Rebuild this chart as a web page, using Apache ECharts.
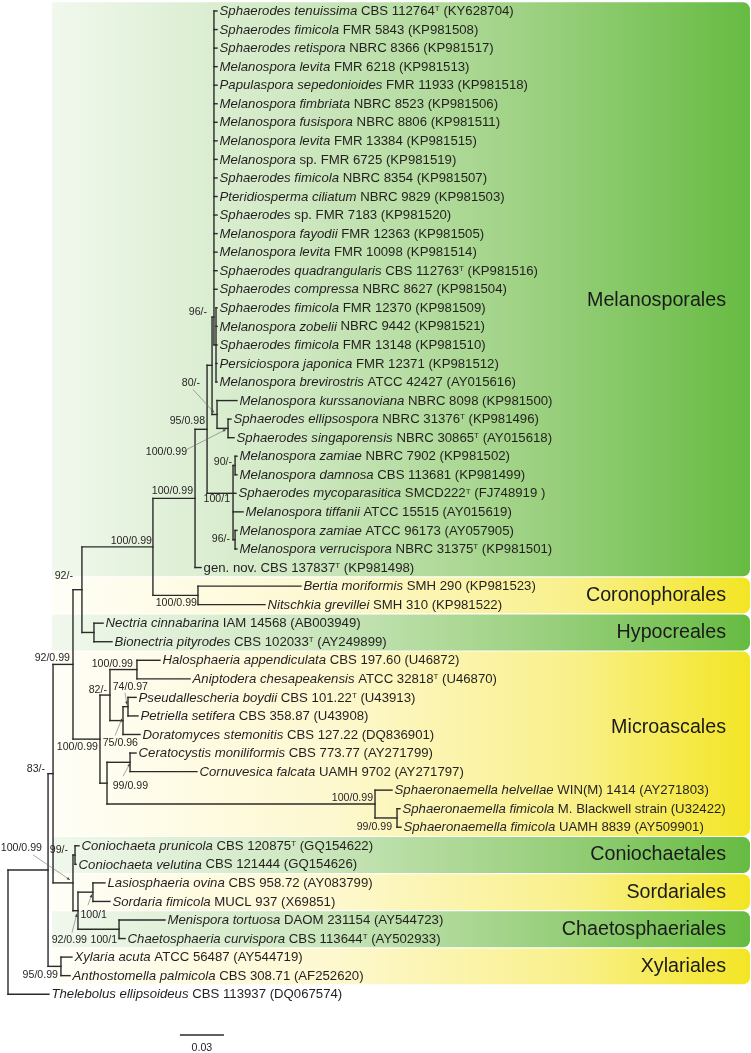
<!DOCTYPE html>
<html>
<head>
<meta charset="utf-8">
<script src="https://cdn.jsdelivr.net/npm/echarts@6/dist/echarts.min.js"></script>
<style>
html, body { margin: 0; padding: 0; background: #fff; }
#chart { width: 751px; height: 1053px; }
</style>
</head>
<body>
<div id="chart"></div>
<script>
// tip labels, top to bottom (row = index)
var leafNames = [
  '{i|Sphaerodes tenuissima} CBS 112764{t|T} (KY628704)',
  '{i|Sphaerodes fimicola} FMR 5843 (KP981508)',
  '{i|Sphaerodes retispora} NBRC 8366 (KP981517)',
  '{i|Melanospora levita} FMR 6218 (KP981513)',
  '{i|Papulaspora sepedonioides} FMR 11933 (KP981518)',
  '{i|Melanospora fimbriata} NBRC 8523 (KP981506)',
  '{i|Melanospora fusispora} NBRC 8806 (KP981511)',
  '{i|Melanospora levita} FMR 13384 (KP981515)',
  '{i|Melanospora} sp. FMR 6725 (KP981519)',
  '{i|Sphaerodes fimicola} NBRC 8354 (KP981507)',
  '{i|Pteridiosperma ciliatum} NBRC 9829 (KP981503)',
  '{i|Sphaerodes} sp. FMR 7183 (KP981520)',
  '{i|Melanospora fayodii} FMR 12363 (KP981505)',
  '{i|Melanospora levita} FMR 10098 (KP981514)',
  '{i|Sphaerodes quadrangularis} CBS 112763{t|T} (KP981516)',
  '{i|Sphaerodes compressa} NBRC 8627 (KP981504)',
  '{i|Sphaerodes fimicola} FMR 12370 (KP981509)',
  '{i|Melanospora zobelii} NBRC 9442 (KP981521)',
  '{i|Sphaerodes fimicola} FMR 13148 (KP981510)',
  '{i|Persiciospora japonica} FMR 12371 (KP981512)',
  '{i|Melanospora brevirostris} ATCC 42427 (AY015616)',
  '{i|Melanospora kurssanoviana} NBRC 8098 (KP981500)',
  '{i|Sphaerodes ellipsospora} NBRC 31376{t|T} (KP981496)',
  '{i|Sphaerodes singaporensis} NBRC 30865{t|T} (AY015618)',
  '{i|Melanospora zamiae} NBRC 7902 (KP981502)',
  '{i|Melanospora damnosa} CBS 113681 (KP981499)',
  '{i|Sphaerodes mycoparasitica} SMCD222{t|T} (FJ748919 )',
  '{i|Melanospora tiffanii} ATCC 15515 (AY015619)',
  '{i|Melanospora zamiae} ATCC 96173 (AY057905)',
  '{i|Melanospora verrucispora} NBRC 31375{t|T} (KP981501)',
  'gen. nov. CBS 137837{t|T} (KP981498)',
  '{i|Bertia moriformis} SMH 290 (KP981523)',
  '{i|Nitschkia grevillei} SMH 310 (KP981522)',
  '{i|Nectria cinnabarina} IAM 14568 (AB003949)',
  '{i|Bionectria pityrodes} CBS 102033{t|T} (AY249899)',
  '{i|Halosphaeria appendiculata} CBS 197.60 (U46872)',
  '{i|Aniptodera chesapeakensis} ATCC 32818{t|T} (U46870)',
  '{i|Pseudallescheria boydii} CBS 101.22{t|T} (U43913)',
  '{i|Petriella setifera} CBS 358.87 (U43908)',
  '{i|Doratomyces stemonitis} CBS 127.22 (DQ836901)',
  '{i|Ceratocystis moniliformis} CBS 773.77 (AY271799)',
  '{i|Cornuvesica falcata} UAMH 9702 (AY271797)',
  '{i|Sphaeronaemella helvellae} WIN(M) 1414 (AY271803)',
  '{i|Sphaeronaemella fimicola} M. Blackwell strain (U32422)',
  '{i|Sphaeronaemella fimicola} UAMH 8839 (AY509901)',
  '{i|Coniochaeta prunicola} CBS 120875{t|T} (GQ154622)',
  '{i|Coniochaeta velutina} CBS 121444 (GQ154626)',
  '{i|Lasiosphaeria ovina} CBS 958.72 (AY083799)',
  '{i|Sordaria fimicola} MUCL 937 (X69851)',
  '{i|Menispora tortuosa} DAOM 231154 (AY544723)',
  '{i|Chaetosphaeria curvispora} CBS 113644{t|T} (AY502933)',
  '{i|Xylaria acuta} ATCC 56487 (AY544719)',
  '{i|Anthostomella palmicola} CBS 308.71 (AF252620)',
  '{i|Thelebolus ellipsoideus} CBS 113937 (DQ067574)'
];
// internal node each tip hangs from
var leafParent = [9,9,9,9,9,9,9,9,9,9,9,9,9,9,9,9,10,10,10,10,10,11,12,12,14,14,13,13,15,15,
  6,16,16,17,17,20,20,22,22,21,24,24,25,26,26,28,28,30,30,31,31,32,32,0];
// distance of each tip from the root (substitutions/site)
var leafDepth = [0.1425,0.1425,0.1425,0.1425,0.1425,0.1425,0.1425,0.1425,0.1425,0.1425,
  0.1425,0.1425,0.1425,0.1425,0.1425,0.1425,0.1425,0.1425,0.1425,0.1425,0.1425,
  0.1561,0.1520,0.1541,0.1561,0.1561,0.1554,0.1602,0.1561,0.1561,
  0.1316,0.1997,0.1752,0.0648,0.0709,0.1036,0.1241,0.0873,0.0886,0.0900,0.0873,0.1288,
  0.2618,0.2672,0.2679,0.0484,0.0464,0.0661,0.0695,0.1070,0.0798,0.0436,0.0423,0.0279];

// internal nodes: parent, distance from root, support (bootstrap / posterior)
var nodeParent = [-1,0,1,2,3,4,5,6,7,8,9,8,11,7,13,13,5,4,3,18,19,19,21,18,23,23,25,2,27,27,29,29,1];
var nodeDepth = [0,0.0273,0.0307,0.0443,0.0504,0.0988,0.1275,0.1357,0.1391,0.1404,0.1418,0.1425,
  0.1500,0.1534,0.1548,0.1548,0.1295,0.0586,0.0627,0.0695,0.0879,0.0784,0.0818,0.0675,0.0832,
  0.2502,0.2652,0.0443,0.0457,0.0477,0.0579,0.0757,0.0361];
var nodeSupport = ['','','83/-','92/0.99','92/-','100/0.99','100/0.99','95/0.98','','','96/-','80/-',
  '100/0.99','100/1','90/-','96/-','100/0.99','','100/0.99','82/-','100/0.99','75/0.96','74/0.97','',
  '99/0.99','100/0.99','99/0.99','100/0.99','99/-','92/0.99','100/1','100/1','95/0.99'];
// rows fixed where the figure does not centre a node on its children
var nodeRowFixed = {8: 19.1, 9: 16.5, 13: 26};

// orders
var cladeNames = ['Melanosporales','Coronophorales','Hypocreales','Microascales',
  'Coniochaetales','Sordariales','Chaetosphaeriales','Xylariales'];
var cladeFirst = [0,31,33,35,45,47,49,51];
var cladeLast = [30,32,34,44,46,48,50,52];
var cladeLabelRow = [15.6,31.5,33.5,38.65,45.5,47.5,49.5,51.5];
var cladeTone = ['green','yellow','green','yellow','green','yellow','green','yellow'];

var scaleBar = [0.1172, 55.2, 0.03];   // start, row, length

// label placement (px, relative to the node)
var supportPlace = {
  2:[-8,-5], 3:[-3,-6], 4:[-9,-14], 5:[-1,-6], 6:[-2,-7], 7:[-2,-8], 10:[-9,-33], 11:[-17,-31],
  12:[-41,24], 13:[-3,6], 14:[-3,-3], 15:[-5,-1], 16:[-1,8], 18:[-2,8], 19:[-3,-5], 20:[-4,-5],
  21:[15,23], 22:[20,-20], 24:[18,24], 25:[-2,-6], 26:[-5,9], 27:[-31,-35], 28:[-7,-5],
  29:[9,29], 30:[14,23], 31:[-2,11], 32:[-3,9]
};
var supportArrow = {
  11:[-24,-25,-3,-2], 12:[-41,21,-2,1], 21:[-8,15,-1,-2], 22:[-3,-14,-1,-2],
  24:[-7,14,0,1], 27:[-40,-28,-3,-3], 29:[-6,22,-1,3], 30:[-5,13,-1,2]
};

var FONT = '"Liberation Sans", Arial, Helvetica, sans-serif';
var INK = '#231f20';

// --- tree layout ---
var nodeKids = nodeParent.map(function () { return []; });
var leafKids = nodeParent.map(function () { return []; });
nodeParent.forEach(function (p, i) { if (p >= 0) nodeKids[p].push(i); });
leafParent.forEach(function (p, i) { leafKids[p].push(i); });

var nodeRow = [], nodeSpan = [];
function rowOf(n) {
  if (nodeRow[n] != null) return nodeRow[n];
  var rows = leafKids[n].concat(nodeKids[n].map(rowOf));
  var lo = Math.min.apply(null, rows), hi = Math.max.apply(null, rows);
  nodeSpan[n] = [lo, hi];
  nodeRow[n] = nodeRowFixed[n] != null ? nodeRowFixed[n] : (lo + hi) / 2;
  return nodeRow[n];
}
rowOf(0);

var segments = [];
nodeParent.forEach(function (p, n) {
  segments.push([nodeDepth[n], nodeSpan[n][0], nodeDepth[n], nodeSpan[n][1]]);
  if (p >= 0) segments.push([nodeDepth[p], nodeRow[n], nodeDepth[n], nodeRow[n]]);
});
leafParent.forEach(function (p, i) {
  segments.push([nodeDepth[p], i, leafDepth[i], i]);
});

var supportData = [];
nodeSupport.forEach(function (s, n) {
  if (s) supportData.push([nodeDepth[n], nodeRow[n], n]);
});

var greenStops = [
  {offset: 0, color: '#f1f8ed'}, {offset: 0.35, color: '#cfe8c2'},
  {offset: 0.7, color: '#9bd07f'}, {offset: 1, color: '#66bb42'}
];
var yellowStops = [
  {offset: 0, color: '#fffef7'}, {offset: 0.4, color: '#fdf8cf'},
  {offset: 0.75, color: '#f9f08a'}, {offset: 1, color: '#f3e524'}
];

var richLeaf = {
  i: {fontSize: 13.2, fontFamily: FONT, fontStyle: 'italic', fill: INK, color: INK},
  t: {fontSize: 8, fontFamily: FONT, verticalAlign: 'top', fill: INK, color: INK}
};

var chart = echarts.init(document.getElementById('chart'));

var option = {
  animation: false,
  grid: {left: 8, right: 0, top: 0, bottom: 0},
  xAxis: {type: 'value', min: 0, max: 0.5065, show: false},
  yAxis: {type: 'value', min: -0.593, max: 56.17, inverse: true, show: false},
  series: [
    {
      // order bands
      type: 'custom',
      silent: true,
      z: 1,
      data: cladeNames.map(function (c, i) { return [0, cladeFirst[i]]; }),
      renderItem: function (params, api) {
        var i = params.dataIndex;
        var cs = params.coordSys;
        var top = api.coord([0, cladeFirst[i] - 0.5])[1] + 0.6;
        var bot = api.coord([0, cladeLast[i] + 0.5])[1] - 0.6;
        if (top < 0) top = 0;
        var x0 = cs.x + 44, x1 = cs.x + cs.width - 1;
        var ly = api.coord([0, cladeLabelRow[i]])[1];
        return {
          type: 'group',
          children: [{
            type: 'rect',
            shape: {x: x0, y: top, width: x1 - x0, height: bot - top, r: [0, 7, 7, 0]},
            style: {fill: new echarts.graphic.LinearGradient(0, 0, 1, 0,
              cladeTone[i] === 'green' ? greenStops : yellowStops)}
          }, {
            type: 'text',
            style: {
              text: cladeNames[i], x: x1 - 24, y: ly,
              align: 'right', verticalAlign: 'middle',
              fontSize: 19.7, fontFamily: FONT, fill: '#1a1a1a'
            }
          }]
        };
      }
    },
    {
      // branches
      type: 'custom',
      silent: true,
      z: 3,
      data: segments,
      renderItem: function (params, api) {
        var a = api.coord([api.value(0), api.value(1)]);
        var b = api.coord([api.value(2), api.value(3)]);
        return {
          type: 'line',
          shape: {x1: a[0], y1: a[1], x2: b[0], y2: b[1]},
          style: {stroke: '#2a2a2a', lineWidth: 1.4, lineCap: 'square'}
        };
      }
    },
    {
      // tip labels
      type: 'custom',
      silent: true,
      z: 4,
      data: leafDepth.map(function (d, i) { return [d, i]; }),
      renderItem: function (params, api) {
        var p = api.coord([api.value(0), api.value(1)]);
        return {
          type: 'text',
          style: {
            text: leafNames[params.dataIndex], x: p[0] + 2.5, y: p[1] + 0.5,
            align: 'left', verticalAlign: 'middle',
            fontSize: 13.2, fontFamily: FONT, fill: INK, rich: richLeaf
          }
        };
      }
    },
    {
      // support values
      type: 'custom',
      silent: true,
      z: 5,
      data: supportData,
      renderItem: function (params, api) {
        var n = api.value(2);
        var p = api.coord([api.value(0), api.value(1)]);
        var off = supportPlace[n] || [-2, -6];
        var kids = [{
          type: 'text',
          style: {
            text: nodeSupport[n], x: p[0] + off[0], y: p[1] + off[1],
            align: 'right', verticalAlign: 'middle',
            fontSize: 10.6, fontFamily: FONT, fill: INK
          }
        }];
        var ar = supportArrow[n];
        if (ar) {
          var ax = p[0] + ar[0], ay = p[1] + ar[1], bx = p[0] + ar[2], by = p[1] + ar[3];
          var ang = Math.atan2(by - ay, bx - ax), h = 3.2, w = 1.4;
          kids.push({
            type: 'line',
            shape: {x1: ax, y1: ay, x2: bx, y2: by},
            style: {stroke: '#6d6d6d', lineWidth: 0.6}
          });
          kids.push({
            type: 'polygon',
            shape: {points: [
              [bx, by],
              [bx - h * Math.cos(ang) + w * Math.sin(ang), by - h * Math.sin(ang) - w * Math.cos(ang)],
              [bx - h * Math.cos(ang) - w * Math.sin(ang), by - h * Math.sin(ang) + w * Math.cos(ang)]
            ]},
            style: {fill: '#444'}
          });
        }
        return {type: 'group', children: kids};
      }
    },
    {
      // scale bar
      type: 'custom',
      silent: true,
      z: 5,
      data: [scaleBar],
      renderItem: function (params, api) {
        var a = api.coord([api.value(0), api.value(1)]);
        var b = api.coord([api.value(0) + api.value(2), api.value(1)]);
        return {
          type: 'group',
          children: [{
            type: 'line',
            shape: {x1: a[0], y1: a[1], x2: b[0], y2: b[1]},
            style: {stroke: '#2a2a2a', lineWidth: 1.4}
          }, {
            type: 'text',
            style: {
              text: String(scaleBar[2]), x: (a[0] + b[0]) / 2, y: a[1] + 13,
              align: 'center', verticalAlign: 'middle',
              fontSize: 10.6, fontFamily: FONT, fill: INK
            }
          }]
        };
      }
    }
  ]
};

chart.setOption(option);
</script>
</body>
</html>
